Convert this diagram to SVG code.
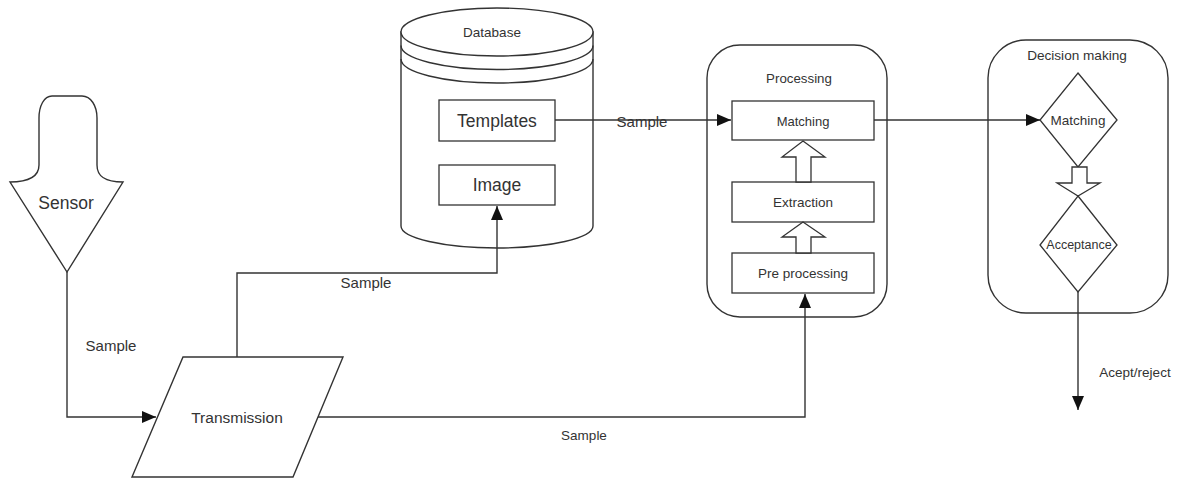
<svg xmlns="http://www.w3.org/2000/svg" width="1179" height="479" viewBox="0 0 1179 479">
<style>
.s{fill:#fff;stroke:#333;stroke-width:1.4}
.c{fill:none;stroke:#333;stroke-width:1.4}
.b{fill:#fff;stroke:#333;stroke-width:1.3}
text{font-family:"Liberation Sans",Arial,sans-serif;fill:#333;text-anchor:middle}
</style>
<defs>
<marker id="ah" viewBox="0 0 14 12" refX="14" refY="6" markerWidth="14" markerHeight="12" markerUnits="userSpaceOnUse" orient="auto">
<path d="M0,0 L14,6 L0,12 Z" fill="#111"/>
</marker>
</defs>
<rect width="1179" height="479" fill="#fff"/>

<g id="sensor">
<path class="s" d="M52,96 L82,96 C91,96 97,106 97,118 L97,165 C97,176 104,182 123,182 L67,272 L10,182 C29,182 39,176 39,165 L39,118 C39,106 44,96 52,96 Z"/>
<text x="66" y="209" font-size="17.5">Sensor</text>
</g>

<g id="transmission">
<path class="s" d="M183,357 L343,357 L293,477 L132,477 Z"/>
<text x="237" y="423" font-size="15.5">Transmission</text>
</g>

<g id="database">
<path class="s" d="M401,32 L401,226 A96,22 0 0 0 593,226 L593,32 Z"/>
<ellipse class="s" cx="497" cy="32" rx="96" ry="24"/>
<path class="c" d="M401,45.5 A96,24 0 0 0 593,45.5 M401,59 A96,24 0 0 0 593,59"/>
<text x="492" y="37" font-size="13.5">Database</text>
<g id="templates">
<rect class="b" x="439" y="100" width="116" height="41"/>
<text x="497" y="127" font-size="17.5">Templates</text>
</g>
<g id="image">
<rect class="b" x="439" y="165" width="116" height="40"/>
<text x="497" y="191" font-size="17.5">Image</text>
</g>
</g>

<g id="processing">
<rect class="s" x="707" y="45" width="180" height="272" rx="33" ry="33"/>
<text x="799" y="83" font-size="13.3">Processing</text>
<g id="matching-box">
<rect class="b" x="732" y="101" width="142" height="39"/>
<text x="803" y="126" font-size="13">Matching</text>
</g>
<g id="extraction">
<rect class="b" x="732" y="182" width="142" height="40"/>
<text x="803" y="207" font-size="13.5">Extraction</text>
</g>
<g id="preprocessing">
<rect class="b" x="732" y="253" width="142" height="40"/>
<text x="803" y="278" font-size="13.5">Pre processing</text>
</g>
<path class="b" d="M803,141 L825,157 L811,157 L811,182 L796,182 L796,157 L782,157 Z"/>
<path class="b" d="M803,222 L825,237 L811,237 L811,253 L796,253 L796,237 L782,237 Z"/>
</g>

<g id="decision">
<rect class="s" x="988" y="40" width="180" height="273" rx="38" ry="38"/>
<text x="1077" y="60" font-size="13.6">Decision making</text>
<g id="matching-diamond">
<path class="b" d="M1078,73 L1117,120 L1078,167 L1040,120 Z"/>
<text x="1078" y="125" font-size="13.5">Matching</text>
</g>
<path class="b" d="M1072,167 L1087,167 L1087,183 L1100,183 L1078,196 L1057,183 L1072,183 Z"/>
<g id="acceptance">
<path class="b" d="M1078,196 L1117,245 L1078,292 L1040,245 Z"/>
<text x="1079" y="249" font-size="12.5">Acceptance</text>
</g>
</g>

<g id="connectors">
<path class="c" d="M67,272 L67,417 L156,417" marker-end="url(#ah)"/>
<path class="c" d="M237,357 L237,273 L497,273 L497,206" marker-end="url(#ah)"/>
<path class="c" d="M318,417 L805,417 L805,294" marker-end="url(#ah)"/>
<path class="c" d="M555,120 L731,120" marker-end="url(#ah)"/>
<path class="c" d="M874,120 L1040,120" marker-end="url(#ah)"/>
<path class="c" d="M1078,292 L1078,410" marker-end="url(#ah)"/>
<text x="111" y="351" font-size="15">Sample</text>
<text x="366" y="288" font-size="15">Sample</text>
<text x="642" y="127" font-size="15">Sample</text>
<text x="584" y="440" font-size="13.5">Sample</text>
<text x="1135" y="377" font-size="13.5">Acept/reject</text>
</g>
</svg>
